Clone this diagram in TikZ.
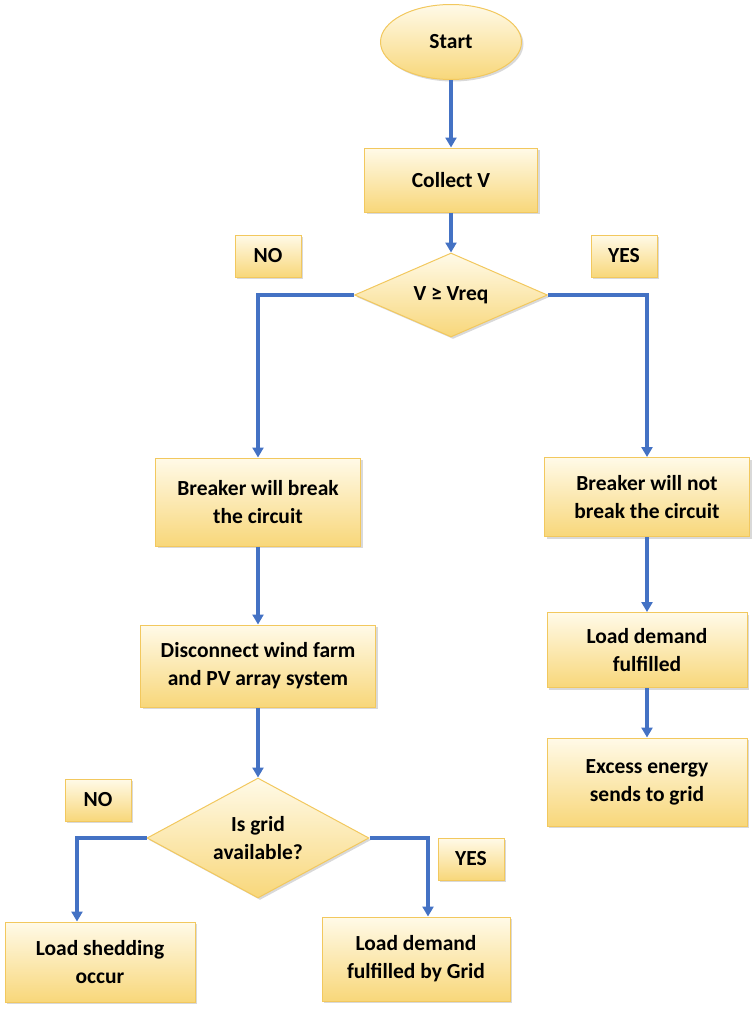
\documentclass[tikz,border=0pt]{standalone}
\usepackage{fontspec}
\setmainfont{Carlito}
\usetikzlibrary{arrows.meta,shapes.geometric,shadows}

\definecolor{ylight}{HTML}{FFFAE8}
\definecolor{ydark}{HTML}{F8D77A}
\definecolor{yedge}{HTML}{F2C85E}
\definecolor{flowblue}{HTML}{4472C4}

\tikzset{
  base/.style={draw=yedge,line width=1pt,top color=ylight,bottom color=ydark,
    font=\fontsize{21.5}{28}\selectfont\bfseries,align=center,inner sep=2pt,
    drop shadow={shadow xshift=2pt,shadow yshift=-2pt,opacity=.3,fill=gray}},
  box/.style={base,rectangle},
  tag/.style={base,rectangle,minimum width=66pt,minimum height=42pt},
  test/.style={base,diamond,inner sep=0pt},
  term/.style={base,ellipse},
  flow/.style={draw=flowblue,line width=3.6pt,-{Triangle[width=11pt,length=10pt]}}
}

\begin{document}
\begin{tikzpicture}[x=1pt,y=-1pt]
\useasboundingbox (0,0) rectangle (754,1012);
% top part
\node[term,minimum width=141pt,minimum height=75pt] (start) at (451,42){Start};
\node[box,minimum width=173pt,minimum height=64pt] (collect) at (451,180){Collect V};
\node[test,aspect=2.3,minimum width=193pt,minimum height=84pt] (vcheck) at (451,295){V ≥ Vreq};
\node[tag] (no1) at (268,256){NO};
\node[tag] (yes1) at (624,256){YES};
% left branch
\node[box,minimum width=205pt,minimum height=88pt] (brk) at (258,502){Breaker will break\\the circuit};
\node[box,minimum width=235pt,minimum height=82pt] (disc) at (258,666){Disconnect wind farm\\and PV array system};
\node[test,aspect=1.85,minimum width=222pt,minimum height=120pt] (grid) at (258,838){Is grid\\available?};
\node[tag] (no2) at (98,800){NO};
\node[tag] (yes2) at (471,859){YES};
\node[box,minimum width=190pt,minimum height=80pt] (shed) at (100,962){Load shedding\\occur};
\node[box,minimum width=188pt,minimum height=84pt] (lgrid) at (416,959){Load demand\\fulfilled by Grid};
% right branch
\node[box,minimum width=205pt,minimum height=79pt] (nobrk) at (647,497){Breaker will not\\break the circuit};
\node[box,minimum width=200pt,minimum height=75pt] (ldf) at (647,650){Load demand\\fulfilled};
\node[box,minimum width=200pt,minimum height=88pt] (excess) at (647,782){Excess energy\\sends to grid};
% connectors
\draw[flow] (start) -- (collect);
\draw[flow] (collect) -- (vcheck);
\draw[flow] (vcheck.west) -| (brk.north);
\draw[flow] (vcheck.east) -| (nobrk.north);
\draw[flow] (brk) -- (disc);
\draw[flow] (disc) -- (grid);
\draw[flow] (grid.west) -| ([xshift=-23pt]shed.north);
\draw[flow] (grid.east) -| ([xshift=12pt]lgrid.north);
\draw[flow] (nobrk) -- (ldf);
\draw[flow] (ldf) -- (excess);
\end{tikzpicture}
\end{document}
